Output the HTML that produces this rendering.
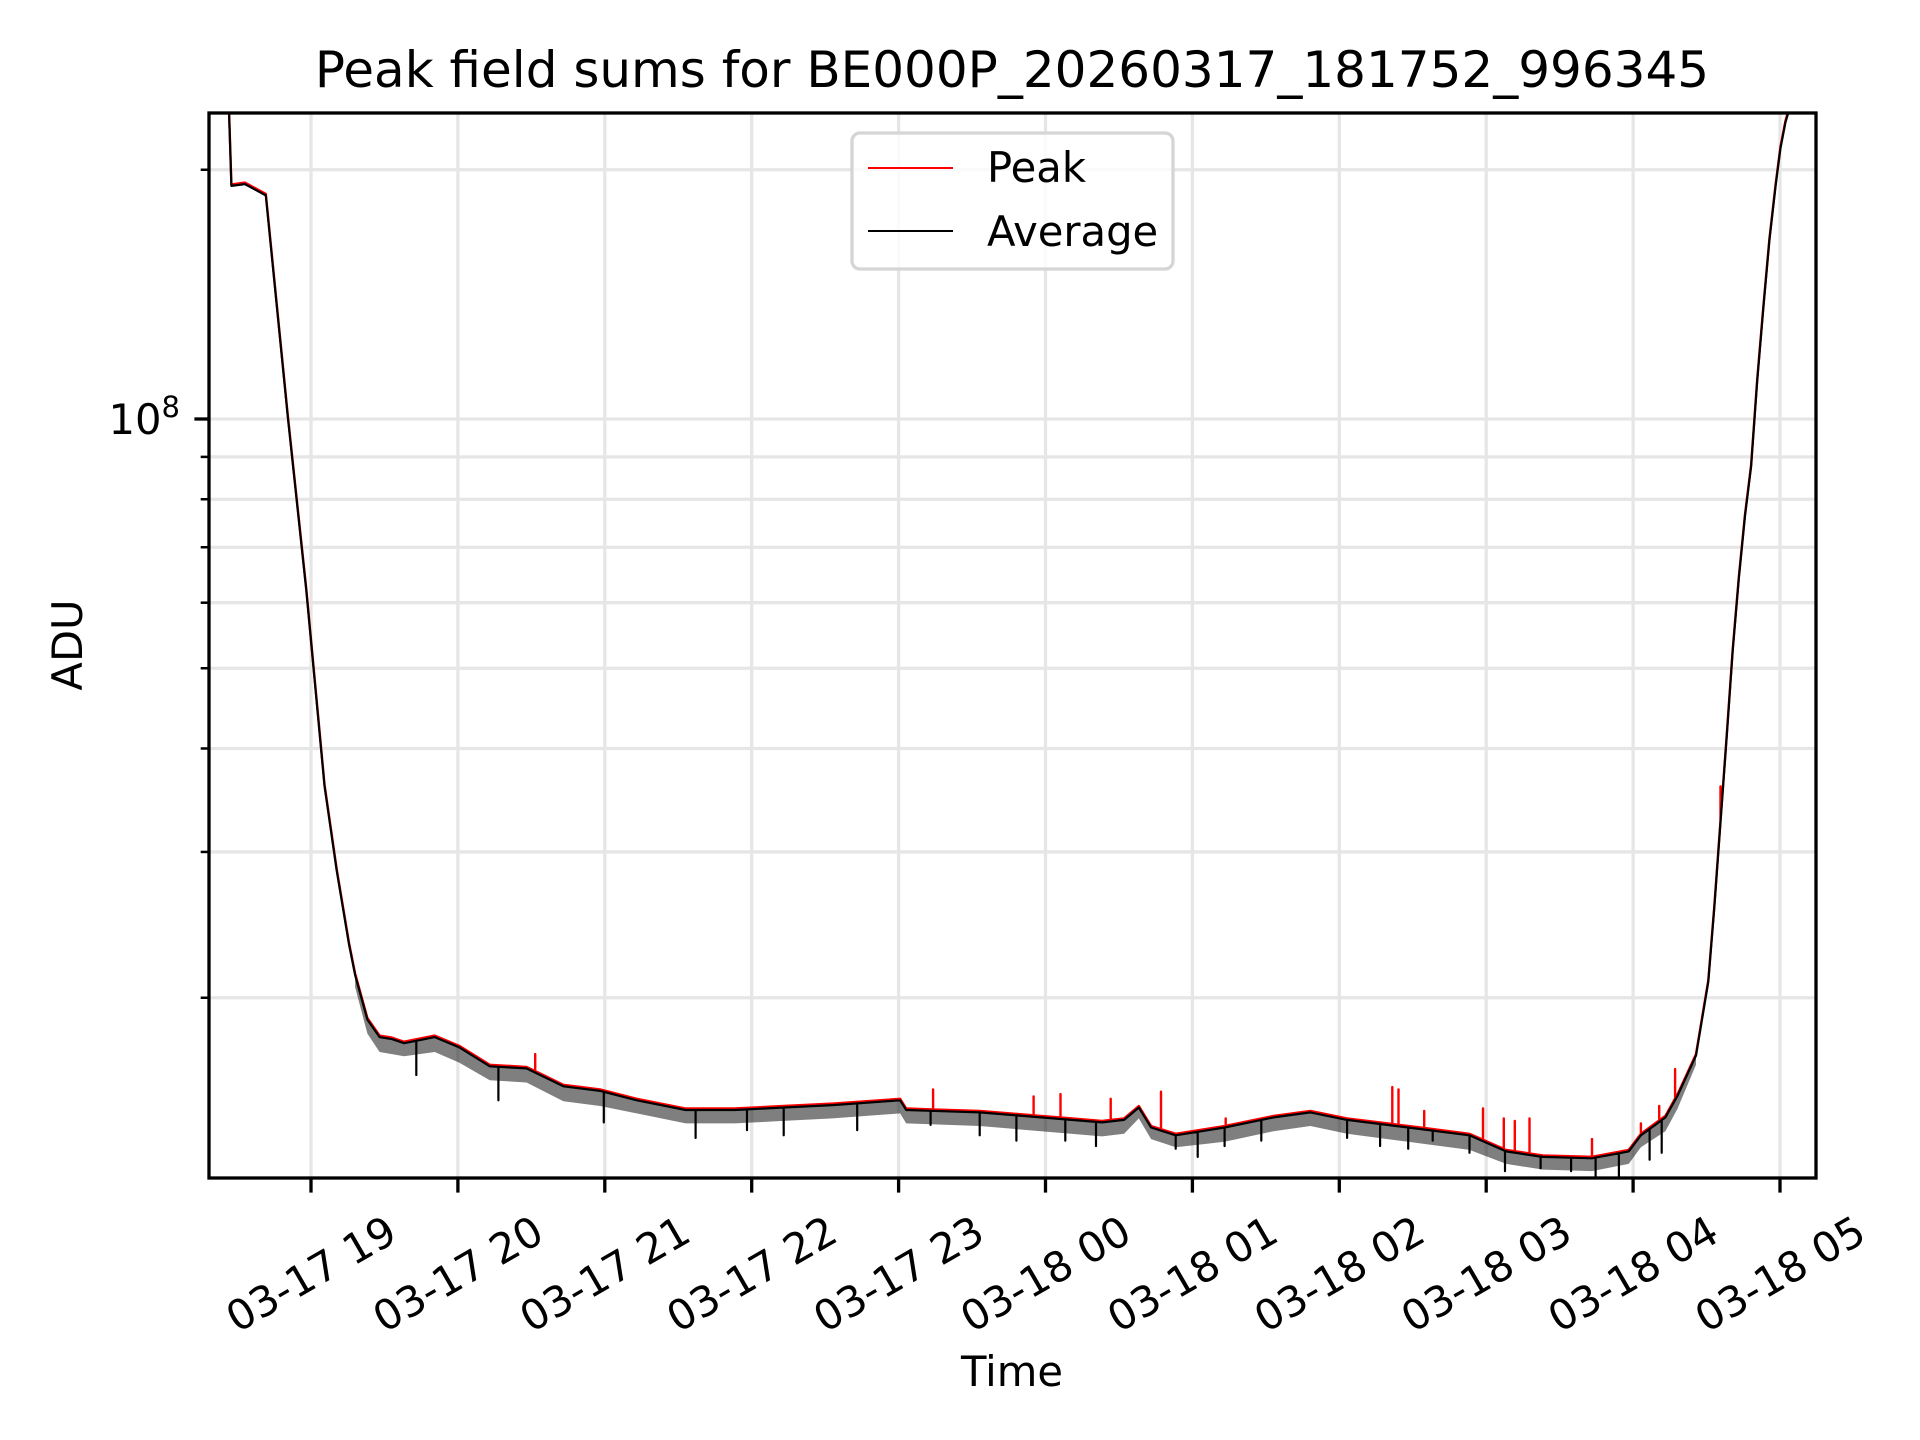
<!DOCTYPE html>
<html><head><meta charset="utf-8"><style>
html,body{margin:0;padding:0;background:#fff;}
svg{display:block;font-family:"DejaVu Sans","Liberation Sans",sans-serif;}
</style></head><body>
<svg id="chart" width="1920" height="1440" viewBox="0 0 1920 1440" xmlns="http://www.w3.org/2000/svg">
<rect width="1920" height="1440" fill="#fff"/>
<text x="1012" y="87" font-size="50" text-anchor="middle">Peak field sums for BE000P_20260317_181752_996345</text>
<g id="grid"></g>
<g id="series"></g>
<rect x="209" y="113" width="1607" height="1065" fill="none" stroke="#000" stroke-width="3.3"/>
<g id="axes"></g>
<text x="1012" y="1386" font-size="41.7" text-anchor="middle">Time</text>
<text transform="translate(82,645) rotate(-90)" font-size="41.7" text-anchor="middle">ADU</text>
<g>
<rect x="852" y="133" width="321" height="136" rx="8" fill="#fff" fill-opacity="0.8" stroke="#d5d5d5" stroke-width="3.3"/>
<line x1="868" y1="168" x2="953" y2="168" stroke="#f00" stroke-width="2"/>
<text x="987" y="182" font-size="41.7">Peak</text>
<line x1="868" y1="231" x2="953" y2="231" stroke="#000" stroke-width="2"/>
<text x="987" y="246" font-size="41.7">Average</text>
</g>
</svg>
<script>
// Hours after 03-17 18:00, values in millions of ADU
const baseHours = [0.434,0.458,0.55,0.692,0.842,0.967,1.092,1.175,1.259,1.300,1.384,1.467,1.551,1.634,1.842,2.009,2.217,2.467,2.718,2.968,3.218,3.551,3.885,4.218,4.551,5.010,5.052,5.552,5.969,6.385,6.535,6.635,6.719,6.886,7.219,7.552,7.803,8.053,8.469,8.886,9.136,9.386,9.720,9.970,10.053,10.220,10.303,10.428,10.512,10.553,10.637,10.678,10.720,10.762,10.803,10.845,10.887,10.928,10.970,11.003,11.037,11.070];
const baseValues = [260,192,193,187,101,62.5,36.2,28.6,23.3,21.4,18.9,18.0,17.9,17.7,18.0,17.5,16.6,16.5,15.7,15.5,15.1,14.7,14.7,14.8,14.9,15.1,14.7,14.6,14.4,14.2,14.3,14.8,14.0,13.7,14.0,14.4,14.6,14.3,14.0,13.7,13.1,12.9,12.85,13.1,13.7,14.4,15.3,17.1,21.0,25.8,41.5,52.7,64.6,76.7,88,111.6,137,165,192,213,229,240];
// lower envelope of the dense dips below the average line
const lowHours = [1.300,1.384,1.467,1.634,1.842,2.009,2.217,2.467,2.718,2.968,3.218,3.551,3.885,4.218,4.551,5.010,5.052,5.552,5.969,6.385,6.535,6.635,6.719,6.886,7.219,7.552,7.803,8.053,8.469,8.886,9.136,9.386,9.720,9.970,10.053,10.220,10.303,10.428];
const lowValues = [20.6,18.1,17.2,17.0,17.2,16.7,15.9,15.8,15.0,14.8,14.5,14.1,14.1,14.2,14.3,14.5,14.1,14.0,13.8,13.6,13.7,14.3,13.5,13.2,13.4,13.8,14.0,13.7,13.4,13.1,12.6,12.4,12.35,12.6,13.2,13.8,14.7,16.6];
const peakSpikeHours = [2.526,5.235,5.919,6.102,6.444,6.786,7.227,8.361,8.403,8.578,8.978,9.120,9.195,9.295,9.720,10.053,10.178,10.286,10.595];
const peakSpikeValues = [17.1,15.5,15.2,15.3,15.1,15.4,14.3,15.6,15.5,14.6,14.7,14.3,14.2,14.3,13.5,14.1,14.8,16.4,36];
const avgDipHours = [1.717,2.276,2.993,3.618,3.968,4.218,4.718,5.218,5.552,5.802,6.135,6.344,6.886,7.036,7.219,7.469,8.053,8.278,8.469,8.636,8.886,9.128,9.370,9.578,9.745,9.903,10.112,10.195];
const avgDipValues = [16.2,15.1,14.2,13.6,13.9,13.7,13.9,14.1,13.7,13.5,13.5,13.3,13.2,12.9,13.3,13.5,13.6,13.3,13.2,13.5,13.05,12.4,12.5,12.4,12.2,12.15,12.8,13.05];
const xTickLabels = ["03-17 19","03-17 20","03-17 21","03-17 22","03-17 23","03-18 00","03-18 01","03-18 02","03-18 03","03-18 04","03-18 05"];
const xTickHours = [1,2,3,4,5,6,7,8,9,10,11];

const L=209,R=1816,T=113,B=1178;
const NS="http://www.w3.org/2000/svg";
function xs(h){return 311+(h-1)*146.9;}
function ys(vM){return 419-(Math.log10(vM*1e6)-8)*828;}
function mk(tag,attrs,parent){const e=document.createElementNS(NS,tag);for(const k in attrs)e.setAttribute(k,attrs[k]);parent.appendChild(e);return e;}
function baseAt(h){
  for(let i=0;i<baseHours.length-1;i++){
    if(h>=baseHours[i]&&h<=baseHours[i+1]){
      const t=(h-baseHours[i])/(baseHours[i+1]-baseHours[i]);
      return Math.pow(10,Math.log10(baseValues[i])*(1-t)+Math.log10(baseValues[i+1])*t);
    }
  }
  return baseValues[baseValues.length-1];
}
const grid=document.getElementById('grid'),axes=document.getElementById('axes'),series=document.getElementById('series');
const defs=mk('defs',{},document.getElementById('chart'));
const cp=mk('clipPath',{id:'clip'},defs);
mk('rect',{x:L,y:T,width:R-L,height:B-T},cp);
series.setAttribute('clip-path','url(#clip)');
xTickHours.forEach((h,i)=>{
  const x=xs(h);
  const g=mk('line',{x1:x,y1:T,x2:x,y2:B,stroke:'#e6e6e6','stroke-width':3.3},grid);
  
  
  const t=mk('line',{x1:x,y1:B,x2:x,y2:B+14.6,stroke:'#000','stroke-width':3.3},axes);
  
  
  const lb=mk('text',{transform:`translate(${x},1274) rotate(-30)`,'font-size':41.7,'text-anchor':'middle','dominant-baseline':'central'},axes);
  lb.textContent=xTickLabels[i];
  
  
});
const yTickVals=[20,30,40,50,60,70,80,90,100,200];
yTickVals.forEach(v=>{
  const y=ys(v);
  const g=mk('line',{x1:L,y1:y,x2:R,y2:y,stroke:'#e6e6e6','stroke-width':3.3},grid);
  
  
  const major=(v===100);
  const t=mk('line',{x1:L-(major?14.6:8.3),y1:y,x2:L,y2:y,stroke:'#000','stroke-width':major?3.3:2.5},axes);
  
  
});
const yl=mk('text',{x:180,y:ys(100)+15,'font-size':41.7,'text-anchor':'end'},axes);


yl.innerHTML='10<tspan font-size="29" dy="-17">8</tspan>';
function buildPath(spH,spV){
  const ev=[];
  baseHours.forEach((h,i)=>ev.push([h,baseValues[i],0]));
  spH.forEach((h,i)=>ev.push([h,spV[i],1]));
  ev.sort((a,b)=>a[0]-b[0]);
  let d='';
  ev.forEach(e=>{
    const x=xs(e[0]).toFixed(1);
    if(e[2]===1){
      const b=ys(baseAt(e[0])).toFixed(1);
      d+=(d?'L':'M')+x+','+b+'L'+x+','+ys(e[1]).toFixed(1)+'L'+x+','+b;
    }else{
      d+=(d?'L':'M')+x+','+ys(e[1]).toFixed(1);
    }
  });
  return d;
}
let bd='';
lowHours.forEach((h,i)=>{bd+=(i?'L':'M')+xs(h).toFixed(1)+','+ys(baseAt(h)).toFixed(1);});
for(let i=lowHours.length-1;i>=0;i--){bd+='L'+xs(lowHours[i]).toFixed(1)+','+ys(lowValues[i]).toFixed(1);}
bd+='Z';
const band=mk('path',{d:bd,fill:'#000','fill-opacity':0.5,stroke:'none'},series);


const pk=mk('path',{d:buildPath(peakSpikeHours,peakSpikeValues),fill:'none',stroke:'#f00','stroke-width':2.4,'stroke-linejoin':'round'},series);


const av=mk('path',{d:buildPath(avgDipHours,avgDipValues),fill:'none',stroke:'#000','stroke-width':2.2,'stroke-linejoin':'round','transform':'translate(0,1.5)'},series);


</script>
</body></html>
